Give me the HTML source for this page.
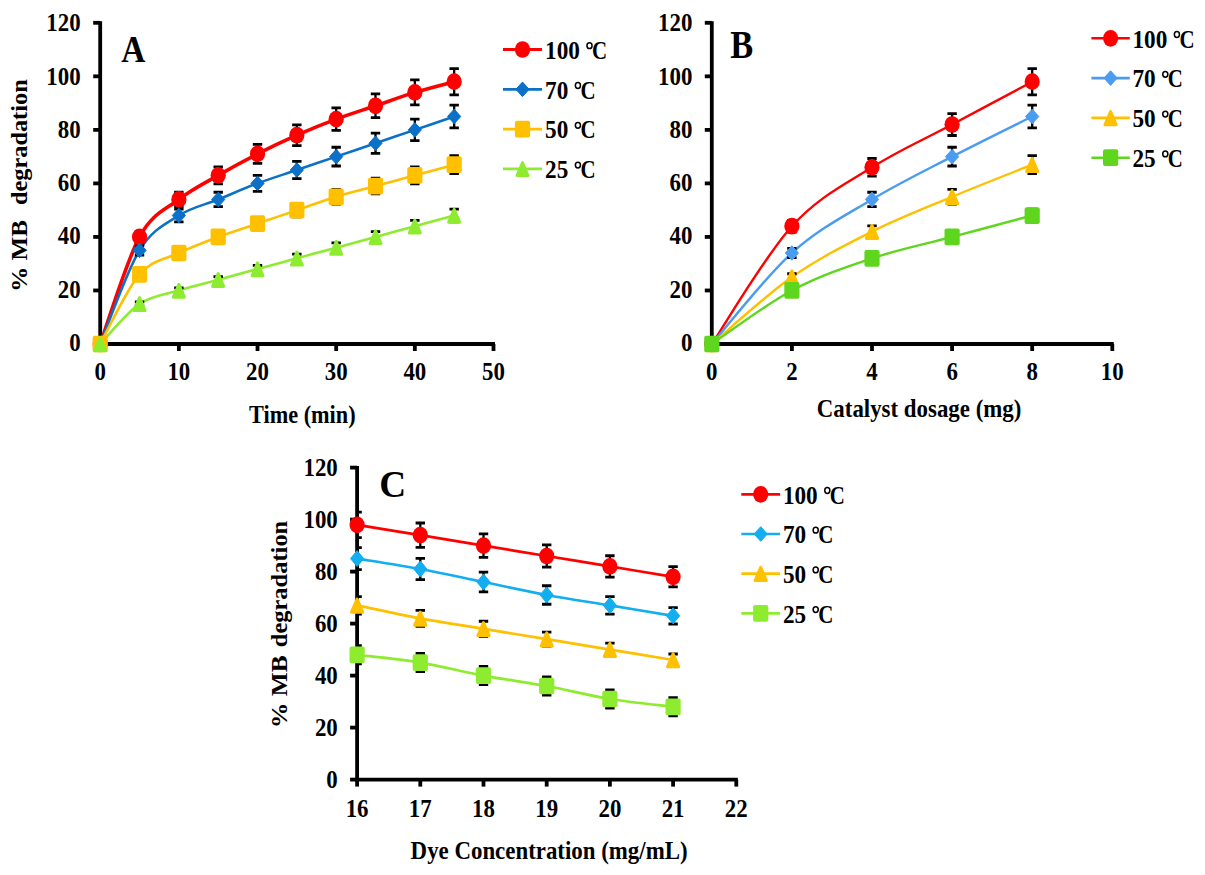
<!DOCTYPE html>
<html><head><meta charset="utf-8"><style>
html,body{margin:0;padding:0;background:#fff;width:1205px;height:875px;overflow:hidden}
svg{display:block}
text{font-family:"Liberation Serif", serif;font-weight:bold;fill:#000}
</style></head><body>
<svg width="1205" height="875" viewBox="0 0 1205 875">
<rect width="1205" height="875" fill="#fff"/>
<g stroke="#000" stroke-width="3.8" fill="none">
<path d="M100.20,21.30V345.90"/>
<path d="M98.30,344.00H495.00"/>
<path d="M93.20,344.00H100.20"/>
<path d="M93.20,290.47H100.20"/>
<path d="M93.20,236.93H100.20"/>
<path d="M93.20,183.40H100.20"/>
<path d="M93.20,129.87H100.20"/>
<path d="M93.20,76.33H100.20"/>
<path d="M93.20,22.80H100.20"/>
<path d="M100.20,344.00V351.00"/>
<path d="M178.86,344.00V351.00"/>
<path d="M257.52,344.00V351.00"/>
<path d="M336.18,344.00V351.00"/>
<path d="M414.84,344.00V351.00"/>
<path d="M493.50,344.00V351.00"/>
</g>
<text x="0" y="0" font-size="24.60" text-anchor="end" transform="translate(80.60,350.75) scale(0.930,1)" xml:space="preserve">0</text>
<text x="0" y="0" font-size="24.60" text-anchor="end" transform="translate(80.60,297.52) scale(0.930,1)" xml:space="preserve">20</text>
<text x="0" y="0" font-size="24.60" text-anchor="end" transform="translate(80.60,244.28) scale(0.930,1)" xml:space="preserve">40</text>
<text x="0" y="0" font-size="24.60" text-anchor="end" transform="translate(80.60,191.05) scale(0.930,1)" xml:space="preserve">60</text>
<text x="0" y="0" font-size="24.60" text-anchor="end" transform="translate(80.60,137.82) scale(0.930,1)" xml:space="preserve">80</text>
<text x="0" y="0" font-size="24.60" text-anchor="end" transform="translate(80.60,84.58) scale(0.930,1)" xml:space="preserve">100</text>
<text x="0" y="0" font-size="24.60" text-anchor="end" transform="translate(80.60,31.35) scale(0.930,1)" xml:space="preserve">120</text>
<text x="0" y="0" font-size="24.60" text-anchor="middle" transform="translate(100.20,379.60) scale(0.930,1)" xml:space="preserve">0</text>
<text x="0" y="0" font-size="24.60" text-anchor="middle" transform="translate(178.86,379.60) scale(0.930,1)" xml:space="preserve">10</text>
<text x="0" y="0" font-size="24.60" text-anchor="middle" transform="translate(257.52,379.60) scale(0.930,1)" xml:space="preserve">20</text>
<text x="0" y="0" font-size="24.60" text-anchor="middle" transform="translate(336.18,379.60) scale(0.930,1)" xml:space="preserve">30</text>
<text x="0" y="0" font-size="24.60" text-anchor="middle" transform="translate(414.84,379.60) scale(0.930,1)" xml:space="preserve">40</text>
<text x="0" y="0" font-size="24.60" text-anchor="middle" transform="translate(493.50,379.60) scale(0.930,1)" xml:space="preserve">50</text>
<path d="M100.20,344.00 C106.75,326.16 126.42,261.02 139.53,236.93 C152.64,212.84 165.75,209.72 178.86,199.46 C191.97,189.20 205.08,182.95 218.19,175.37 C231.30,167.79 244.41,160.65 257.52,153.96 C270.63,147.26 283.74,141.02 296.85,135.22 C309.96,129.42 323.07,124.07 336.18,119.16 C349.29,114.25 362.40,110.24 375.51,105.78 C388.62,101.32 401.73,96.41 414.84,92.39 C427.95,88.38 447.62,83.47 454.17,81.69" fill="none" stroke="#ff0000" stroke-width="3.60" stroke-linejoin="round" stroke-linecap="round"/>
<path d="M100.20,344.00 C106.75,328.39 126.42,271.73 139.53,250.32 C152.64,228.90 165.75,224.00 178.86,215.52 C191.97,207.04 205.08,204.81 218.19,199.46 C231.30,194.11 244.41,188.31 257.52,183.40 C270.63,178.49 283.74,174.48 296.85,170.02 C309.96,165.56 323.07,161.09 336.18,156.63 C349.29,152.17 362.40,147.71 375.51,143.25 C388.62,138.79 401.73,134.33 414.84,129.87 C427.95,125.41 447.62,118.71 454.17,116.48" fill="none" stroke="#0a70c8" stroke-width="2.60" stroke-linejoin="round" stroke-linecap="round"/>
<path d="M100.20,344.00 C106.75,332.40 126.42,289.57 139.53,274.41 C152.64,259.24 165.75,259.24 178.86,252.99 C191.97,246.75 205.08,241.84 218.19,236.93 C231.30,232.03 244.41,228.01 257.52,223.55 C270.63,219.09 283.74,214.63 296.85,210.17 C309.96,205.71 323.07,200.80 336.18,196.78 C349.29,192.77 362.40,189.65 375.51,186.08 C388.62,182.51 401.73,178.94 414.84,175.37 C427.95,171.80 447.62,166.45 454.17,164.66" fill="none" stroke="#ffc000" stroke-width="2.60" stroke-linejoin="round" stroke-linecap="round"/>
<path d="M100.20,344.00 C106.75,337.31 126.42,312.77 139.53,303.85 C152.64,294.93 165.75,294.48 178.86,290.47 C191.97,286.45 205.08,283.33 218.19,279.76 C231.30,276.19 244.41,272.62 257.52,269.05 C270.63,265.48 283.74,261.92 296.85,258.35 C309.96,254.78 323.07,251.21 336.18,247.64 C349.29,244.07 362.40,240.50 375.51,236.93 C388.62,233.36 401.73,229.80 414.84,226.23 C427.95,222.66 447.62,217.30 454.17,215.52" fill="none" stroke="#8eec30" stroke-width="2.60" stroke-linejoin="round" stroke-linecap="round"/>
<clipPath id="clipA"><rect x="100.20" y="0" width="1205" height="875"/></clipPath>
<g clip-path="url(#clipA)">
<path d="M139.53,231.58V242.29" stroke="#000" stroke-width="2.30" fill="none"/>
<path d="M134.83,231.58H144.23M134.83,242.29H144.23" stroke="#000" stroke-width="2.80" fill="none"/>
<path d="M178.86,192.23V206.69" stroke="#000" stroke-width="2.30" fill="none"/>
<path d="M174.16,192.23H183.56M174.16,206.69H183.56" stroke="#000" stroke-width="2.80" fill="none"/>
<path d="M218.19,166.94V183.80" stroke="#000" stroke-width="2.30" fill="none"/>
<path d="M213.49,166.94H222.89M213.49,183.80H222.89" stroke="#000" stroke-width="2.80" fill="none"/>
<path d="M257.52,144.45V163.46" stroke="#000" stroke-width="2.30" fill="none"/>
<path d="M252.82,144.45H262.22M252.82,163.46H262.22" stroke="#000" stroke-width="2.80" fill="none"/>
<path d="M296.85,124.78V145.66" stroke="#000" stroke-width="2.30" fill="none"/>
<path d="M292.15,124.78H301.55M292.15,145.66H301.55" stroke="#000" stroke-width="2.80" fill="none"/>
<path d="M336.18,107.92V130.40" stroke="#000" stroke-width="2.30" fill="none"/>
<path d="M331.48,107.92H340.88M331.48,130.40H340.88" stroke="#000" stroke-width="2.80" fill="none"/>
<path d="M375.51,93.87V117.69" stroke="#000" stroke-width="2.30" fill="none"/>
<path d="M370.81,93.87H380.21M370.81,117.69H380.21" stroke="#000" stroke-width="2.80" fill="none"/>
<path d="M414.84,79.81V104.97" stroke="#000" stroke-width="2.30" fill="none"/>
<path d="M410.14,79.81H419.54M410.14,104.97H419.54" stroke="#000" stroke-width="2.80" fill="none"/>
<path d="M454.17,68.57V94.80" stroke="#000" stroke-width="2.30" fill="none"/>
<path d="M449.47,68.57H458.87M449.47,94.80H458.87" stroke="#000" stroke-width="2.80" fill="none"/>
<path d="M139.53,245.63V255.00" stroke="#000" stroke-width="2.30" fill="none"/>
<path d="M134.83,245.63H144.23M134.83,255.00H144.23" stroke="#000" stroke-width="2.80" fill="none"/>
<path d="M178.86,209.10V221.94" stroke="#000" stroke-width="2.30" fill="none"/>
<path d="M174.16,209.10H183.56M174.16,221.94H183.56" stroke="#000" stroke-width="2.80" fill="none"/>
<path d="M218.19,192.23V206.69" stroke="#000" stroke-width="2.30" fill="none"/>
<path d="M213.49,192.23H222.89M213.49,206.69H222.89" stroke="#000" stroke-width="2.80" fill="none"/>
<path d="M257.52,175.37V191.43" stroke="#000" stroke-width="2.30" fill="none"/>
<path d="M252.82,175.37H262.22M252.82,191.43H262.22" stroke="#000" stroke-width="2.80" fill="none"/>
<path d="M296.85,161.32V178.72" stroke="#000" stroke-width="2.30" fill="none"/>
<path d="M292.15,161.32H301.55M292.15,178.72H301.55" stroke="#000" stroke-width="2.80" fill="none"/>
<path d="M336.18,147.26V166.00" stroke="#000" stroke-width="2.30" fill="none"/>
<path d="M331.48,147.26H340.88M331.48,166.00H340.88" stroke="#000" stroke-width="2.80" fill="none"/>
<path d="M375.51,133.21V153.29" stroke="#000" stroke-width="2.30" fill="none"/>
<path d="M370.81,133.21H380.21M370.81,153.29H380.21" stroke="#000" stroke-width="2.80" fill="none"/>
<path d="M414.84,119.16V140.57" stroke="#000" stroke-width="2.30" fill="none"/>
<path d="M410.14,119.16H419.54M410.14,140.57H419.54" stroke="#000" stroke-width="2.80" fill="none"/>
<path d="M454.17,105.11V127.86" stroke="#000" stroke-width="2.30" fill="none"/>
<path d="M449.47,105.11H458.87M449.47,127.86H458.87" stroke="#000" stroke-width="2.80" fill="none"/>
<path d="M139.53,270.93V277.89" stroke="#000" stroke-width="2.30" fill="none"/>
<path d="M134.83,270.93H144.23M134.83,277.89H144.23" stroke="#000" stroke-width="2.80" fill="none"/>
<path d="M178.86,248.44V257.54" stroke="#000" stroke-width="2.30" fill="none"/>
<path d="M174.16,248.44H183.56M174.16,257.54H183.56" stroke="#000" stroke-width="2.80" fill="none"/>
<path d="M218.19,231.58V242.29" stroke="#000" stroke-width="2.30" fill="none"/>
<path d="M213.49,231.58H222.89M213.49,242.29H222.89" stroke="#000" stroke-width="2.80" fill="none"/>
<path d="M257.52,217.53V229.57" stroke="#000" stroke-width="2.30" fill="none"/>
<path d="M252.82,217.53H262.22M252.82,229.57H262.22" stroke="#000" stroke-width="2.80" fill="none"/>
<path d="M296.85,203.47V216.86" stroke="#000" stroke-width="2.30" fill="none"/>
<path d="M292.15,203.47H301.55M292.15,216.86H301.55" stroke="#000" stroke-width="2.80" fill="none"/>
<path d="M336.18,189.42V204.14" stroke="#000" stroke-width="2.30" fill="none"/>
<path d="M331.48,189.42H340.88M331.48,204.14H340.88" stroke="#000" stroke-width="2.80" fill="none"/>
<path d="M375.51,178.18V193.97" stroke="#000" stroke-width="2.30" fill="none"/>
<path d="M370.81,178.18H380.21M370.81,193.97H380.21" stroke="#000" stroke-width="2.80" fill="none"/>
<path d="M414.84,166.94V183.80" stroke="#000" stroke-width="2.30" fill="none"/>
<path d="M410.14,166.94H419.54M410.14,183.80H419.54" stroke="#000" stroke-width="2.80" fill="none"/>
<path d="M454.17,155.70V173.63" stroke="#000" stroke-width="2.30" fill="none"/>
<path d="M449.47,155.70H458.87M449.47,173.63H458.87" stroke="#000" stroke-width="2.80" fill="none"/>
<path d="M139.53,301.84V305.86" stroke="#000" stroke-width="2.30" fill="none"/>
<path d="M134.83,301.84H144.23M134.83,305.86H144.23" stroke="#000" stroke-width="2.80" fill="none"/>
<path d="M178.86,287.79V293.14" stroke="#000" stroke-width="2.30" fill="none"/>
<path d="M174.16,287.79H183.56M174.16,293.14H183.56" stroke="#000" stroke-width="2.80" fill="none"/>
<path d="M218.19,276.55V282.97" stroke="#000" stroke-width="2.30" fill="none"/>
<path d="M213.49,276.55H222.89M213.49,282.97H222.89" stroke="#000" stroke-width="2.80" fill="none"/>
<path d="M257.52,265.31V272.80" stroke="#000" stroke-width="2.30" fill="none"/>
<path d="M252.82,265.31H262.22M252.82,272.80H262.22" stroke="#000" stroke-width="2.80" fill="none"/>
<path d="M296.85,254.06V262.63" stroke="#000" stroke-width="2.30" fill="none"/>
<path d="M292.15,254.06H301.55M292.15,262.63H301.55" stroke="#000" stroke-width="2.80" fill="none"/>
<path d="M336.18,242.82V252.46" stroke="#000" stroke-width="2.30" fill="none"/>
<path d="M331.48,242.82H340.88M331.48,252.46H340.88" stroke="#000" stroke-width="2.80" fill="none"/>
<path d="M375.51,231.58V242.29" stroke="#000" stroke-width="2.30" fill="none"/>
<path d="M370.81,231.58H380.21M370.81,242.29H380.21" stroke="#000" stroke-width="2.80" fill="none"/>
<path d="M414.84,220.34V232.12" stroke="#000" stroke-width="2.30" fill="none"/>
<path d="M410.14,220.34H419.54M410.14,232.12H419.54" stroke="#000" stroke-width="2.80" fill="none"/>
<path d="M454.17,209.10V221.94" stroke="#000" stroke-width="2.30" fill="none"/>
<path d="M449.47,209.10H458.87M449.47,221.94H458.87" stroke="#000" stroke-width="2.80" fill="none"/>
</g>
<ellipse cx="100.20" cy="344.00" rx="7.60" ry="8.36" fill="#ff0000"/>
<ellipse cx="139.53" cy="236.93" rx="7.60" ry="8.36" fill="#ff0000"/>
<ellipse cx="178.86" cy="199.46" rx="7.60" ry="8.36" fill="#ff0000"/>
<ellipse cx="218.19" cy="175.37" rx="7.60" ry="8.36" fill="#ff0000"/>
<ellipse cx="257.52" cy="153.96" rx="7.60" ry="8.36" fill="#ff0000"/>
<ellipse cx="296.85" cy="135.22" rx="7.60" ry="8.36" fill="#ff0000"/>
<ellipse cx="336.18" cy="119.16" rx="7.60" ry="8.36" fill="#ff0000"/>
<ellipse cx="375.51" cy="105.78" rx="7.60" ry="8.36" fill="#ff0000"/>
<ellipse cx="414.84" cy="92.39" rx="7.60" ry="8.36" fill="#ff0000"/>
<ellipse cx="454.17" cy="81.69" rx="7.60" ry="8.36" fill="#ff0000"/>
<path d="M100.20,336.69L106.80,344.00L100.20,351.31L93.60,344.00Z" fill="#0a70c8" stroke="#0a70c8" stroke-width="1" stroke-linejoin="round"/>
<path d="M139.53,243.01L146.13,250.32L139.53,257.63L132.93,250.32Z" fill="#0a70c8" stroke="#0a70c8" stroke-width="1" stroke-linejoin="round"/>
<path d="M178.86,208.21L185.46,215.52L178.86,222.83L172.26,215.52Z" fill="#0a70c8" stroke="#0a70c8" stroke-width="1" stroke-linejoin="round"/>
<path d="M218.19,192.15L224.79,199.46L218.19,206.77L211.59,199.46Z" fill="#0a70c8" stroke="#0a70c8" stroke-width="1" stroke-linejoin="round"/>
<path d="M257.52,176.09L264.12,183.40L257.52,190.71L250.92,183.40Z" fill="#0a70c8" stroke="#0a70c8" stroke-width="1" stroke-linejoin="round"/>
<path d="M296.85,162.71L303.45,170.02L296.85,177.33L290.25,170.02Z" fill="#0a70c8" stroke="#0a70c8" stroke-width="1" stroke-linejoin="round"/>
<path d="M336.18,149.32L342.78,156.63L336.18,163.94L329.58,156.63Z" fill="#0a70c8" stroke="#0a70c8" stroke-width="1" stroke-linejoin="round"/>
<path d="M375.51,135.94L382.11,143.25L375.51,150.56L368.91,143.25Z" fill="#0a70c8" stroke="#0a70c8" stroke-width="1" stroke-linejoin="round"/>
<path d="M414.84,122.56L421.44,129.87L414.84,137.18L408.24,129.87Z" fill="#0a70c8" stroke="#0a70c8" stroke-width="1" stroke-linejoin="round"/>
<path d="M454.17,109.17L460.77,116.48L454.17,123.79L447.57,116.48Z" fill="#0a70c8" stroke="#0a70c8" stroke-width="1" stroke-linejoin="round"/>
<rect x="92.60" y="335.64" width="15.20" height="16.72" rx="2" fill="#ffc000"/>
<rect x="131.93" y="266.05" width="15.20" height="16.72" rx="2" fill="#ffc000"/>
<rect x="171.26" y="244.63" width="15.20" height="16.72" rx="2" fill="#ffc000"/>
<rect x="210.59" y="228.57" width="15.20" height="16.72" rx="2" fill="#ffc000"/>
<rect x="249.92" y="215.19" width="15.20" height="16.72" rx="2" fill="#ffc000"/>
<rect x="289.25" y="201.81" width="15.20" height="16.72" rx="2" fill="#ffc000"/>
<rect x="328.58" y="188.42" width="15.20" height="16.72" rx="2" fill="#ffc000"/>
<rect x="367.91" y="177.72" width="15.20" height="16.72" rx="2" fill="#ffc000"/>
<rect x="407.24" y="167.01" width="15.20" height="16.72" rx="2" fill="#ffc000"/>
<rect x="446.57" y="156.30" width="15.20" height="16.72" rx="2" fill="#ffc000"/>
<path d="M100.20,337.83L105.70,350.69L94.70,350.69Z" fill="#8eec30" stroke="#8eec30" stroke-width="3.0" stroke-linejoin="round"/>
<path d="M139.53,297.68L145.03,310.54L134.03,310.54Z" fill="#8eec30" stroke="#8eec30" stroke-width="3.0" stroke-linejoin="round"/>
<path d="M178.86,284.29L184.36,297.15L173.36,297.15Z" fill="#8eec30" stroke="#8eec30" stroke-width="3.0" stroke-linejoin="round"/>
<path d="M218.19,273.59L223.69,286.45L212.69,286.45Z" fill="#8eec30" stroke="#8eec30" stroke-width="3.0" stroke-linejoin="round"/>
<path d="M257.52,262.88L263.02,275.74L252.02,275.74Z" fill="#8eec30" stroke="#8eec30" stroke-width="3.0" stroke-linejoin="round"/>
<path d="M296.85,252.17L302.35,265.03L291.35,265.03Z" fill="#8eec30" stroke="#8eec30" stroke-width="3.0" stroke-linejoin="round"/>
<path d="M336.18,241.47L341.68,254.33L330.68,254.33Z" fill="#8eec30" stroke="#8eec30" stroke-width="3.0" stroke-linejoin="round"/>
<path d="M375.51,230.76L381.01,243.62L370.01,243.62Z" fill="#8eec30" stroke="#8eec30" stroke-width="3.0" stroke-linejoin="round"/>
<path d="M414.84,220.05L420.34,232.91L409.34,232.91Z" fill="#8eec30" stroke="#8eec30" stroke-width="3.0" stroke-linejoin="round"/>
<path d="M454.17,209.35L459.67,222.21L448.67,222.21Z" fill="#8eec30" stroke="#8eec30" stroke-width="3.0" stroke-linejoin="round"/>
<path d="M503.00,49.50H542.00" stroke="#ff0000" stroke-width="2.8"/>
<ellipse cx="522.50" cy="49.50" rx="7.60" ry="8.36" fill="#ff0000"/>
<text x="0" y="0" font-size="24.60" transform="translate(545.10,58.70) scale(0.944,1)" xml:space="preserve">100</text>
<ellipse cx="589.50" cy="45.70" rx="2.55" ry="2.90" fill="none" stroke="#000" stroke-width="1.50"/>
<text x="0" y="0" font-size="25.50" font-weight="normal" transform="translate(592.00,58.70) scale(0.820,1)" xml:space="preserve">C</text>
<path d="M503.00,89.30H542.00" stroke="#0a70c8" stroke-width="2.8"/>
<path d="M522.50,81.99L529.10,89.30L522.50,96.61L515.90,89.30Z" fill="#0a70c8" stroke="#0a70c8" stroke-width="1" stroke-linejoin="round"/>
<text x="0" y="0" font-size="24.60" transform="translate(545.10,98.50) scale(0.944,1)" xml:space="preserve">70</text>
<ellipse cx="577.90" cy="85.50" rx="2.55" ry="2.90" fill="none" stroke="#000" stroke-width="1.50"/>
<text x="0" y="0" font-size="25.50" font-weight="normal" transform="translate(580.40,98.50) scale(0.820,1)" xml:space="preserve">C</text>
<path d="M503.00,129.10H542.00" stroke="#ffc000" stroke-width="2.8"/>
<rect x="514.90" y="120.74" width="15.20" height="16.72" rx="2" fill="#ffc000"/>
<text x="0" y="0" font-size="24.60" transform="translate(545.10,138.30) scale(0.944,1)" xml:space="preserve">50</text>
<ellipse cx="577.90" cy="125.30" rx="2.55" ry="2.90" fill="none" stroke="#000" stroke-width="1.50"/>
<text x="0" y="0" font-size="25.50" font-weight="normal" transform="translate(580.40,138.30) scale(0.820,1)" xml:space="preserve">C</text>
<path d="M503.00,168.90H542.00" stroke="#8eec30" stroke-width="2.8"/>
<path d="M522.50,162.73L528.00,175.59L517.00,175.59Z" fill="#8eec30" stroke="#8eec30" stroke-width="3.0" stroke-linejoin="round"/>
<text x="0" y="0" font-size="24.60" transform="translate(545.10,178.10) scale(0.944,1)" xml:space="preserve">25</text>
<ellipse cx="577.90" cy="165.10" rx="2.55" ry="2.90" fill="none" stroke="#000" stroke-width="1.50"/>
<text x="0" y="0" font-size="25.50" font-weight="normal" transform="translate(580.40,178.10) scale(0.820,1)" xml:space="preserve">C</text>
<text x="0" y="0" font-size="37.50" transform="translate(121.30,61.50) scale(0.890,1)" xml:space="preserve">A</text>
<text x="0" y="0" font-size="24.60" text-anchor="middle" transform="translate(302.30,423.00) scale(0.905,1)" xml:space="preserve">Time (min)</text>
<text x="0" y="0" font-size="24.60" text-anchor="middle" transform="translate(26.80,142.20) rotate(-90) scale(0.990,0.935)" xml:space="preserve">degradation</text>
<text x="0" y="0" font-size="24.60" text-anchor="middle" transform="translate(26.80,256.00) rotate(-90) scale(1.020,0.935)" xml:space="preserve">% MB</text>
<g stroke="#000" stroke-width="3.8" fill="none">
<path d="M711.80,21.30V345.90"/>
<path d="M709.90,344.00H1113.80"/>
<path d="M704.80,344.00H711.80"/>
<path d="M704.80,290.47H711.80"/>
<path d="M704.80,236.93H711.80"/>
<path d="M704.80,183.40H711.80"/>
<path d="M704.80,129.87H711.80"/>
<path d="M704.80,76.33H711.80"/>
<path d="M704.80,22.80H711.80"/>
<path d="M711.80,344.00V351.00"/>
<path d="M791.90,344.00V351.00"/>
<path d="M872.00,344.00V351.00"/>
<path d="M952.10,344.00V351.00"/>
<path d="M1032.20,344.00V351.00"/>
<path d="M1112.30,344.00V351.00"/>
</g>
<text x="0" y="0" font-size="24.60" text-anchor="end" transform="translate(692.40,350.75) scale(0.930,1)" xml:space="preserve">0</text>
<text x="0" y="0" font-size="24.60" text-anchor="end" transform="translate(692.40,297.52) scale(0.930,1)" xml:space="preserve">20</text>
<text x="0" y="0" font-size="24.60" text-anchor="end" transform="translate(692.40,244.28) scale(0.930,1)" xml:space="preserve">40</text>
<text x="0" y="0" font-size="24.60" text-anchor="end" transform="translate(692.40,191.05) scale(0.930,1)" xml:space="preserve">60</text>
<text x="0" y="0" font-size="24.60" text-anchor="end" transform="translate(692.40,137.82) scale(0.930,1)" xml:space="preserve">80</text>
<text x="0" y="0" font-size="24.60" text-anchor="end" transform="translate(692.40,84.58) scale(0.930,1)" xml:space="preserve">100</text>
<text x="0" y="0" font-size="24.60" text-anchor="end" transform="translate(692.40,31.35) scale(0.930,1)" xml:space="preserve">120</text>
<text x="0" y="0" font-size="24.60" text-anchor="middle" transform="translate(711.80,379.60) scale(0.930,1)" xml:space="preserve">0</text>
<text x="0" y="0" font-size="24.60" text-anchor="middle" transform="translate(791.90,379.60) scale(0.930,1)" xml:space="preserve">2</text>
<text x="0" y="0" font-size="24.60" text-anchor="middle" transform="translate(872.00,379.60) scale(0.930,1)" xml:space="preserve">4</text>
<text x="0" y="0" font-size="24.60" text-anchor="middle" transform="translate(952.10,379.60) scale(0.930,1)" xml:space="preserve">6</text>
<text x="0" y="0" font-size="24.60" text-anchor="middle" transform="translate(1032.20,379.60) scale(0.930,1)" xml:space="preserve">8</text>
<text x="0" y="0" font-size="24.60" text-anchor="middle" transform="translate(1112.30,379.60) scale(0.930,1)" xml:space="preserve">10</text>
<path d="M711.80,344.00 C725.15,324.37 765.20,255.67 791.90,226.23 C818.60,196.78 845.30,184.29 872.00,167.34 C898.70,150.39 925.40,138.79 952.10,124.51 C978.80,110.24 1018.85,88.82 1032.20,81.69" fill="none" stroke="#ff0000" stroke-width="2.40" stroke-linejoin="round" stroke-linecap="round"/>
<path d="M711.80,344.00 C725.15,328.83 765.20,277.08 791.90,252.99 C818.60,228.90 845.30,215.52 872.00,199.46 C898.70,183.40 925.40,170.46 952.10,156.63 C978.80,142.80 1018.85,123.17 1032.20,116.48" fill="none" stroke="#4a9cf0" stroke-width="2.40" stroke-linejoin="round" stroke-linecap="round"/>
<path d="M711.80,344.00 C725.15,332.85 765.20,295.82 791.90,277.08 C818.60,258.35 845.30,244.96 872.00,231.58 C898.70,218.20 925.40,207.94 952.10,196.78 C978.80,185.63 1018.85,170.02 1032.20,164.66" fill="none" stroke="#ffc000" stroke-width="2.40" stroke-linejoin="round" stroke-linecap="round"/>
<path d="M711.80,344.00 C725.15,335.08 765.20,304.74 791.90,290.47 C818.60,276.19 845.30,267.27 872.00,258.35 C898.70,249.42 925.40,244.07 952.10,236.93 C978.80,229.80 1018.85,219.09 1032.20,215.52" fill="none" stroke="#5ed61e" stroke-width="2.40" stroke-linejoin="round" stroke-linecap="round"/>
<clipPath id="clipB"><rect x="711.80" y="0" width="1205" height="875"/></clipPath>
<g clip-path="url(#clipB)">
<path d="M791.90,220.34V232.12" stroke="#000" stroke-width="2.30" fill="none"/>
<path d="M787.20,220.34H796.60M787.20,232.12H796.60" stroke="#000" stroke-width="2.80" fill="none"/>
<path d="M872.00,158.51V176.17" stroke="#000" stroke-width="2.30" fill="none"/>
<path d="M867.30,158.51H876.70M867.30,176.17H876.70" stroke="#000" stroke-width="2.80" fill="none"/>
<path d="M952.10,113.54V135.49" stroke="#000" stroke-width="2.30" fill="none"/>
<path d="M947.40,113.54H956.80M947.40,135.49H956.80" stroke="#000" stroke-width="2.80" fill="none"/>
<path d="M1032.20,68.57V94.80" stroke="#000" stroke-width="2.30" fill="none"/>
<path d="M1027.50,68.57H1036.90M1027.50,94.80H1036.90" stroke="#000" stroke-width="2.80" fill="none"/>
<path d="M791.90,248.44V257.54" stroke="#000" stroke-width="2.30" fill="none"/>
<path d="M787.20,248.44H796.60M787.20,257.54H796.60" stroke="#000" stroke-width="2.80" fill="none"/>
<path d="M872.00,192.23V206.69" stroke="#000" stroke-width="2.30" fill="none"/>
<path d="M867.30,192.23H876.70M867.30,206.69H876.70" stroke="#000" stroke-width="2.80" fill="none"/>
<path d="M952.10,147.26V166.00" stroke="#000" stroke-width="2.30" fill="none"/>
<path d="M947.40,147.26H956.80M947.40,166.00H956.80" stroke="#000" stroke-width="2.80" fill="none"/>
<path d="M1032.20,105.11V127.86" stroke="#000" stroke-width="2.30" fill="none"/>
<path d="M1027.50,105.11H1036.90M1027.50,127.86H1036.90" stroke="#000" stroke-width="2.80" fill="none"/>
<path d="M791.90,273.74V280.43" stroke="#000" stroke-width="2.30" fill="none"/>
<path d="M787.20,273.74H796.60M787.20,280.43H796.60" stroke="#000" stroke-width="2.80" fill="none"/>
<path d="M872.00,225.96V237.20" stroke="#000" stroke-width="2.30" fill="none"/>
<path d="M867.30,225.96H876.70M867.30,237.20H876.70" stroke="#000" stroke-width="2.80" fill="none"/>
<path d="M952.10,189.42V204.14" stroke="#000" stroke-width="2.30" fill="none"/>
<path d="M947.40,189.42H956.80M947.40,204.14H956.80" stroke="#000" stroke-width="2.80" fill="none"/>
<path d="M1032.20,155.70V173.63" stroke="#000" stroke-width="2.30" fill="none"/>
<path d="M1027.50,155.70H1036.90M1027.50,173.63H1036.90" stroke="#000" stroke-width="2.80" fill="none"/>
<path d="M791.90,287.79V293.14" stroke="#000" stroke-width="2.30" fill="none"/>
<path d="M787.20,287.79H796.60M787.20,293.14H796.60" stroke="#000" stroke-width="2.80" fill="none"/>
<path d="M872.00,254.06V262.63" stroke="#000" stroke-width="2.30" fill="none"/>
<path d="M867.30,254.06H876.70M867.30,262.63H876.70" stroke="#000" stroke-width="2.80" fill="none"/>
<path d="M952.10,231.58V242.29" stroke="#000" stroke-width="2.30" fill="none"/>
<path d="M947.40,231.58H956.80M947.40,242.29H956.80" stroke="#000" stroke-width="2.80" fill="none"/>
<path d="M1032.20,209.10V221.94" stroke="#000" stroke-width="2.30" fill="none"/>
<path d="M1027.50,209.10H1036.90M1027.50,221.94H1036.90" stroke="#000" stroke-width="2.80" fill="none"/>
</g>
<ellipse cx="711.80" cy="344.00" rx="7.60" ry="8.36" fill="#ff0000"/>
<ellipse cx="791.90" cy="226.23" rx="7.60" ry="8.36" fill="#ff0000"/>
<ellipse cx="872.00" cy="167.34" rx="7.60" ry="8.36" fill="#ff0000"/>
<ellipse cx="952.10" cy="124.51" rx="7.60" ry="8.36" fill="#ff0000"/>
<ellipse cx="1032.20" cy="81.69" rx="7.60" ry="8.36" fill="#ff0000"/>
<path d="M711.80,336.69L718.40,344.00L711.80,351.31L705.20,344.00Z" fill="#4a9cf0" stroke="#4a9cf0" stroke-width="1" stroke-linejoin="round"/>
<path d="M791.90,245.68L798.50,252.99L791.90,260.30L785.30,252.99Z" fill="#4a9cf0" stroke="#4a9cf0" stroke-width="1" stroke-linejoin="round"/>
<path d="M872.00,192.15L878.60,199.46L872.00,206.77L865.40,199.46Z" fill="#4a9cf0" stroke="#4a9cf0" stroke-width="1" stroke-linejoin="round"/>
<path d="M952.10,149.32L958.70,156.63L952.10,163.94L945.50,156.63Z" fill="#4a9cf0" stroke="#4a9cf0" stroke-width="1" stroke-linejoin="round"/>
<path d="M1032.20,109.17L1038.80,116.48L1032.20,123.79L1025.60,116.48Z" fill="#4a9cf0" stroke="#4a9cf0" stroke-width="1" stroke-linejoin="round"/>
<path d="M711.80,337.72L717.40,350.81L706.20,350.81Z" fill="#ffc000" stroke="#ffc000" stroke-width="3.0" stroke-linejoin="round"/>
<path d="M791.90,270.80L797.50,283.89L786.30,283.89Z" fill="#ffc000" stroke="#ffc000" stroke-width="3.0" stroke-linejoin="round"/>
<path d="M872.00,225.30L877.60,238.39L866.40,238.39Z" fill="#ffc000" stroke="#ffc000" stroke-width="3.0" stroke-linejoin="round"/>
<path d="M952.10,190.50L957.70,203.59L946.50,203.59Z" fill="#ffc000" stroke="#ffc000" stroke-width="3.0" stroke-linejoin="round"/>
<path d="M1032.20,158.38L1037.80,171.47L1026.60,171.47Z" fill="#ffc000" stroke="#ffc000" stroke-width="3.0" stroke-linejoin="round"/>
<rect x="704.20" y="335.64" width="15.20" height="16.72" rx="2" fill="#5ed61e"/>
<rect x="784.30" y="282.11" width="15.20" height="16.72" rx="2" fill="#5ed61e"/>
<rect x="864.40" y="249.99" width="15.20" height="16.72" rx="2" fill="#5ed61e"/>
<rect x="944.50" y="228.57" width="15.20" height="16.72" rx="2" fill="#5ed61e"/>
<rect x="1024.60" y="207.16" width="15.20" height="16.72" rx="2" fill="#5ed61e"/>
<path d="M1091.40,38.30H1129.80" stroke="#ff0000" stroke-width="2.6"/>
<ellipse cx="1110.60" cy="38.30" rx="7.60" ry="8.36" fill="#ff0000"/>
<text x="0" y="0" font-size="24.60" transform="translate(1132.50,47.50) scale(0.944,1)" xml:space="preserve">100</text>
<ellipse cx="1176.90" cy="34.50" rx="2.55" ry="2.90" fill="none" stroke="#000" stroke-width="1.50"/>
<text x="0" y="0" font-size="25.50" font-weight="normal" transform="translate(1179.40,47.50) scale(0.820,1)" xml:space="preserve">C</text>
<path d="M1091.40,78.10H1129.80" stroke="#4a9cf0" stroke-width="2.6"/>
<path d="M1110.60,70.79L1117.20,78.10L1110.60,85.41L1104.00,78.10Z" fill="#4a9cf0" stroke="#4a9cf0" stroke-width="1" stroke-linejoin="round"/>
<text x="0" y="0" font-size="24.60" transform="translate(1132.50,87.30) scale(0.944,1)" xml:space="preserve">70</text>
<ellipse cx="1165.30" cy="74.30" rx="2.55" ry="2.90" fill="none" stroke="#000" stroke-width="1.50"/>
<text x="0" y="0" font-size="25.50" font-weight="normal" transform="translate(1167.80,87.30) scale(0.820,1)" xml:space="preserve">C</text>
<path d="M1091.40,117.90H1129.80" stroke="#ffc000" stroke-width="2.6"/>
<path d="M1110.60,111.62L1116.20,124.71L1105.00,124.71Z" fill="#ffc000" stroke="#ffc000" stroke-width="3.0" stroke-linejoin="round"/>
<text x="0" y="0" font-size="24.60" transform="translate(1132.50,127.10) scale(0.944,1)" xml:space="preserve">50</text>
<ellipse cx="1165.30" cy="114.10" rx="2.55" ry="2.90" fill="none" stroke="#000" stroke-width="1.50"/>
<text x="0" y="0" font-size="25.50" font-weight="normal" transform="translate(1167.80,127.10) scale(0.820,1)" xml:space="preserve">C</text>
<path d="M1091.40,157.70H1129.80" stroke="#5ed61e" stroke-width="2.6"/>
<rect x="1103.00" y="149.34" width="15.20" height="16.72" rx="2" fill="#5ed61e"/>
<text x="0" y="0" font-size="24.60" transform="translate(1132.50,166.90) scale(0.944,1)" xml:space="preserve">25</text>
<ellipse cx="1165.30" cy="153.90" rx="2.55" ry="2.90" fill="none" stroke="#000" stroke-width="1.50"/>
<text x="0" y="0" font-size="25.50" font-weight="normal" transform="translate(1167.80,166.90) scale(0.820,1)" xml:space="preserve">C</text>
<text x="0" y="0" font-size="39.50" transform="translate(730.20,57.80) scale(0.870,1)" xml:space="preserve">B</text>
<text x="0" y="0" font-size="24.60" text-anchor="middle" transform="translate(919.10,417.30) scale(0.930,1)" xml:space="preserve">Catalyst dosage (mg)</text>
<g stroke="#000" stroke-width="3.8" fill="none">
<path d="M357.10,466.10V781.50"/>
<path d="M355.20,779.60H737.80"/>
<path d="M350.10,779.60H357.10"/>
<path d="M350.10,727.60H357.10"/>
<path d="M350.10,675.60H357.10"/>
<path d="M350.10,623.60H357.10"/>
<path d="M350.10,571.60H357.10"/>
<path d="M350.10,519.60H357.10"/>
<path d="M350.10,467.60H357.10"/>
<path d="M357.10,779.60V786.60"/>
<path d="M420.30,779.60V786.60"/>
<path d="M483.50,779.60V786.60"/>
<path d="M546.70,779.60V786.60"/>
<path d="M609.90,779.60V786.60"/>
<path d="M673.10,779.60V786.60"/>
<path d="M736.30,779.60V786.60"/>
</g>
<text x="0" y="0" font-size="24.60" text-anchor="end" transform="translate(337.80,787.80) scale(0.930,1)" xml:space="preserve">0</text>
<text x="0" y="0" font-size="24.60" text-anchor="end" transform="translate(337.80,735.87) scale(0.930,1)" xml:space="preserve">20</text>
<text x="0" y="0" font-size="24.60" text-anchor="end" transform="translate(337.80,683.93) scale(0.930,1)" xml:space="preserve">40</text>
<text x="0" y="0" font-size="24.60" text-anchor="end" transform="translate(337.80,632.00) scale(0.930,1)" xml:space="preserve">60</text>
<text x="0" y="0" font-size="24.60" text-anchor="end" transform="translate(337.80,580.07) scale(0.930,1)" xml:space="preserve">80</text>
<text x="0" y="0" font-size="24.60" text-anchor="end" transform="translate(337.80,528.13) scale(0.930,1)" xml:space="preserve">100</text>
<text x="0" y="0" font-size="24.60" text-anchor="end" transform="translate(337.80,476.20) scale(0.930,1)" xml:space="preserve">120</text>
<text x="0" y="0" font-size="24.60" text-anchor="middle" transform="translate(357.10,817.00) scale(0.930,1)" xml:space="preserve">16</text>
<text x="0" y="0" font-size="24.60" text-anchor="middle" transform="translate(420.30,817.00) scale(0.930,1)" xml:space="preserve">17</text>
<text x="0" y="0" font-size="24.60" text-anchor="middle" transform="translate(483.50,817.00) scale(0.930,1)" xml:space="preserve">18</text>
<text x="0" y="0" font-size="24.60" text-anchor="middle" transform="translate(546.70,817.00) scale(0.930,1)" xml:space="preserve">19</text>
<text x="0" y="0" font-size="24.60" text-anchor="middle" transform="translate(609.90,817.00) scale(0.930,1)" xml:space="preserve">20</text>
<text x="0" y="0" font-size="24.60" text-anchor="middle" transform="translate(673.10,817.00) scale(0.930,1)" xml:space="preserve">21</text>
<text x="0" y="0" font-size="24.60" text-anchor="middle" transform="translate(736.30,817.00) scale(0.930,1)" xml:space="preserve">22</text>
<path d="M357.10,524.80 C367.63,526.53 399.23,531.73 420.30,535.20 C441.37,538.67 462.43,542.13 483.50,545.60 C504.57,549.07 525.63,552.53 546.70,556.00 C567.77,559.47 588.83,562.93 609.90,566.40 C630.97,569.87 662.57,575.07 673.10,576.80" fill="none" stroke="#ff0000" stroke-width="2.70" stroke-linejoin="round" stroke-linecap="round"/>
<path d="M357.10,558.60 C367.63,560.33 399.23,565.10 420.30,569.00 C441.37,572.90 462.43,577.67 483.50,582.00 C504.57,586.33 525.63,591.10 546.70,595.00 C567.77,598.90 588.83,601.93 609.90,605.40 C630.97,608.87 662.57,614.07 673.10,615.80" fill="none" stroke="#12aef0" stroke-width="2.70" stroke-linejoin="round" stroke-linecap="round"/>
<path d="M357.10,605.40 C367.63,607.57 399.23,614.50 420.30,618.40 C441.37,622.30 462.43,625.33 483.50,628.80 C504.57,632.27 525.63,635.73 546.70,639.20 C567.77,642.67 588.83,646.13 609.90,649.60 C630.97,653.07 662.57,658.27 673.10,660.00" fill="none" stroke="#ffc000" stroke-width="2.70" stroke-linejoin="round" stroke-linecap="round"/>
<path d="M357.10,654.80 C367.63,656.10 399.23,659.13 420.30,662.60 C441.37,666.07 462.43,671.70 483.50,675.60 C504.57,679.50 525.63,682.10 546.70,686.00 C567.77,689.90 588.83,695.53 609.90,699.00 C630.97,702.47 662.57,705.50 673.10,706.80" fill="none" stroke="#8eec30" stroke-width="2.70" stroke-linejoin="round" stroke-linecap="round"/>
<clipPath id="clipC"><rect x="357.10" y="0" width="1205" height="875"/></clipPath>
<g clip-path="url(#clipC)">
<path d="M357.10,512.06V537.54" stroke="#000" stroke-width="2.30" fill="none"/>
<path d="M352.40,512.06H361.80M352.40,537.54H361.80" stroke="#000" stroke-width="2.80" fill="none"/>
<path d="M420.30,522.98V547.42" stroke="#000" stroke-width="2.30" fill="none"/>
<path d="M415.60,522.98H425.00M415.60,547.42H425.00" stroke="#000" stroke-width="2.80" fill="none"/>
<path d="M483.50,533.90V557.30" stroke="#000" stroke-width="2.30" fill="none"/>
<path d="M478.80,533.90H488.20M478.80,557.30H488.20" stroke="#000" stroke-width="2.80" fill="none"/>
<path d="M546.70,544.82V567.18" stroke="#000" stroke-width="2.30" fill="none"/>
<path d="M542.00,544.82H551.40M542.00,567.18H551.40" stroke="#000" stroke-width="2.80" fill="none"/>
<path d="M609.90,555.74V577.06" stroke="#000" stroke-width="2.30" fill="none"/>
<path d="M605.20,555.74H614.60M605.20,577.06H614.60" stroke="#000" stroke-width="2.80" fill="none"/>
<path d="M673.10,566.66V586.94" stroke="#000" stroke-width="2.30" fill="none"/>
<path d="M668.40,566.66H677.80M668.40,586.94H677.80" stroke="#000" stroke-width="2.80" fill="none"/>
<path d="M357.10,547.55V569.65" stroke="#000" stroke-width="2.30" fill="none"/>
<path d="M352.40,547.55H361.80M352.40,569.65H361.80" stroke="#000" stroke-width="2.80" fill="none"/>
<path d="M420.30,558.47V579.53" stroke="#000" stroke-width="2.30" fill="none"/>
<path d="M415.60,558.47H425.00M415.60,579.53H425.00" stroke="#000" stroke-width="2.80" fill="none"/>
<path d="M483.50,572.12V591.88" stroke="#000" stroke-width="2.30" fill="none"/>
<path d="M478.80,572.12H488.20M478.80,591.88H488.20" stroke="#000" stroke-width="2.80" fill="none"/>
<path d="M546.70,585.77V604.23" stroke="#000" stroke-width="2.30" fill="none"/>
<path d="M542.00,585.77H551.40M542.00,604.23H551.40" stroke="#000" stroke-width="2.80" fill="none"/>
<path d="M609.90,596.69V614.11" stroke="#000" stroke-width="2.30" fill="none"/>
<path d="M605.20,596.69H614.60M605.20,614.11H614.60" stroke="#000" stroke-width="2.80" fill="none"/>
<path d="M673.10,607.61V623.99" stroke="#000" stroke-width="2.30" fill="none"/>
<path d="M668.40,607.61H677.80M668.40,623.99H677.80" stroke="#000" stroke-width="2.80" fill="none"/>
<path d="M357.10,596.69V614.11" stroke="#000" stroke-width="2.30" fill="none"/>
<path d="M352.40,596.69H361.80M352.40,614.11H361.80" stroke="#000" stroke-width="2.80" fill="none"/>
<path d="M420.30,610.34V626.46" stroke="#000" stroke-width="2.30" fill="none"/>
<path d="M415.60,610.34H425.00M415.60,626.46H425.00" stroke="#000" stroke-width="2.80" fill="none"/>
<path d="M483.50,621.26V636.34" stroke="#000" stroke-width="2.30" fill="none"/>
<path d="M478.80,621.26H488.20M478.80,636.34H488.20" stroke="#000" stroke-width="2.80" fill="none"/>
<path d="M546.70,632.18V646.22" stroke="#000" stroke-width="2.30" fill="none"/>
<path d="M542.00,632.18H551.40M542.00,646.22H551.40" stroke="#000" stroke-width="2.80" fill="none"/>
<path d="M609.90,643.10V656.10" stroke="#000" stroke-width="2.30" fill="none"/>
<path d="M605.20,643.10H614.60M605.20,656.10H614.60" stroke="#000" stroke-width="2.80" fill="none"/>
<path d="M673.10,654.02V665.98" stroke="#000" stroke-width="2.30" fill="none"/>
<path d="M668.40,654.02H677.80M668.40,665.98H677.80" stroke="#000" stroke-width="2.80" fill="none"/>
<path d="M357.10,645.70V663.90" stroke="#000" stroke-width="2.30" fill="none"/>
<path d="M352.40,645.70H361.80M352.40,663.90H361.80" stroke="#000" stroke-width="2.80" fill="none"/>
<path d="M420.30,653.50V671.70" stroke="#000" stroke-width="2.30" fill="none"/>
<path d="M415.60,653.50H425.00M415.60,671.70H425.00" stroke="#000" stroke-width="2.80" fill="none"/>
<path d="M483.50,666.50V684.70" stroke="#000" stroke-width="2.30" fill="none"/>
<path d="M478.80,666.50H488.20M478.80,684.70H488.20" stroke="#000" stroke-width="2.80" fill="none"/>
<path d="M546.70,676.90V695.10" stroke="#000" stroke-width="2.30" fill="none"/>
<path d="M542.00,676.90H551.40M542.00,695.10H551.40" stroke="#000" stroke-width="2.80" fill="none"/>
<path d="M609.90,689.90V708.10" stroke="#000" stroke-width="2.30" fill="none"/>
<path d="M605.20,689.90H614.60M605.20,708.10H614.60" stroke="#000" stroke-width="2.80" fill="none"/>
<path d="M673.10,697.70V715.90" stroke="#000" stroke-width="2.30" fill="none"/>
<path d="M668.40,697.70H677.80M668.40,715.90H677.80" stroke="#000" stroke-width="2.80" fill="none"/>
</g>
<ellipse cx="357.10" cy="524.80" rx="7.60" ry="8.36" fill="#ff0000"/>
<ellipse cx="420.30" cy="535.20" rx="7.60" ry="8.36" fill="#ff0000"/>
<ellipse cx="483.50" cy="545.60" rx="7.60" ry="8.36" fill="#ff0000"/>
<ellipse cx="546.70" cy="556.00" rx="7.60" ry="8.36" fill="#ff0000"/>
<ellipse cx="609.90" cy="566.40" rx="7.60" ry="8.36" fill="#ff0000"/>
<ellipse cx="673.10" cy="576.80" rx="7.60" ry="8.36" fill="#ff0000"/>
<path d="M357.10,550.58L363.70,558.60L357.10,566.62L350.50,558.60Z" fill="#12aef0" stroke="#12aef0" stroke-width="1" stroke-linejoin="round"/>
<path d="M420.30,560.98L426.90,569.00L420.30,577.02L413.70,569.00Z" fill="#12aef0" stroke="#12aef0" stroke-width="1" stroke-linejoin="round"/>
<path d="M483.50,573.98L490.10,582.00L483.50,590.02L476.90,582.00Z" fill="#12aef0" stroke="#12aef0" stroke-width="1" stroke-linejoin="round"/>
<path d="M546.70,586.98L553.30,595.00L546.70,603.02L540.10,595.00Z" fill="#12aef0" stroke="#12aef0" stroke-width="1" stroke-linejoin="round"/>
<path d="M609.90,597.38L616.50,605.40L609.90,613.42L603.30,605.40Z" fill="#12aef0" stroke="#12aef0" stroke-width="1" stroke-linejoin="round"/>
<path d="M673.10,607.78L679.70,615.80L673.10,623.82L666.50,615.80Z" fill="#12aef0" stroke="#12aef0" stroke-width="1" stroke-linejoin="round"/>
<path d="M357.10,599.12L362.70,612.21L351.50,612.21Z" fill="#ffc000" stroke="#ffc000" stroke-width="3.0" stroke-linejoin="round"/>
<path d="M420.30,612.12L425.90,625.21L414.70,625.21Z" fill="#ffc000" stroke="#ffc000" stroke-width="3.0" stroke-linejoin="round"/>
<path d="M483.50,622.52L489.10,635.61L477.90,635.61Z" fill="#ffc000" stroke="#ffc000" stroke-width="3.0" stroke-linejoin="round"/>
<path d="M546.70,632.92L552.30,646.01L541.10,646.01Z" fill="#ffc000" stroke="#ffc000" stroke-width="3.0" stroke-linejoin="round"/>
<path d="M609.90,643.32L615.50,656.41L604.30,656.41Z" fill="#ffc000" stroke="#ffc000" stroke-width="3.0" stroke-linejoin="round"/>
<path d="M673.10,653.72L678.70,666.81L667.50,666.81Z" fill="#ffc000" stroke="#ffc000" stroke-width="3.0" stroke-linejoin="round"/>
<rect x="349.50" y="646.44" width="15.20" height="16.72" rx="2" fill="#8eec30"/>
<rect x="412.70" y="654.24" width="15.20" height="16.72" rx="2" fill="#8eec30"/>
<rect x="475.90" y="667.24" width="15.20" height="16.72" rx="2" fill="#8eec30"/>
<rect x="539.10" y="677.64" width="15.20" height="16.72" rx="2" fill="#8eec30"/>
<rect x="602.30" y="690.64" width="15.20" height="16.72" rx="2" fill="#8eec30"/>
<rect x="665.50" y="698.44" width="15.20" height="16.72" rx="2" fill="#8eec30"/>
<path d="M741.30,494.30H780.10" stroke="#ff0000" stroke-width="2.7"/>
<ellipse cx="760.70" cy="494.30" rx="7.60" ry="8.36" fill="#ff0000"/>
<text x="0" y="0" font-size="24.60" transform="translate(782.90,503.50) scale(0.944,1)" xml:space="preserve">100</text>
<ellipse cx="827.30" cy="490.50" rx="2.55" ry="2.90" fill="none" stroke="#000" stroke-width="1.50"/>
<text x="0" y="0" font-size="25.50" font-weight="normal" transform="translate(829.80,503.50) scale(0.820,1)" xml:space="preserve">C</text>
<path d="M741.30,534.00H780.10" stroke="#12aef0" stroke-width="2.7"/>
<path d="M760.70,526.69L767.30,534.00L760.70,541.31L754.10,534.00Z" fill="#12aef0" stroke="#12aef0" stroke-width="1" stroke-linejoin="round"/>
<text x="0" y="0" font-size="24.60" transform="translate(782.90,543.20) scale(0.944,1)" xml:space="preserve">70</text>
<ellipse cx="815.70" cy="530.20" rx="2.55" ry="2.90" fill="none" stroke="#000" stroke-width="1.50"/>
<text x="0" y="0" font-size="25.50" font-weight="normal" transform="translate(818.20,543.20) scale(0.820,1)" xml:space="preserve">C</text>
<path d="M741.30,573.70H780.10" stroke="#ffc000" stroke-width="2.7"/>
<path d="M760.70,567.42L766.30,580.51L755.10,580.51Z" fill="#ffc000" stroke="#ffc000" stroke-width="3.0" stroke-linejoin="round"/>
<text x="0" y="0" font-size="24.60" transform="translate(782.90,582.90) scale(0.944,1)" xml:space="preserve">50</text>
<ellipse cx="815.70" cy="569.90" rx="2.55" ry="2.90" fill="none" stroke="#000" stroke-width="1.50"/>
<text x="0" y="0" font-size="25.50" font-weight="normal" transform="translate(818.20,582.90) scale(0.820,1)" xml:space="preserve">C</text>
<path d="M741.30,613.40H780.10" stroke="#8eec30" stroke-width="2.7"/>
<rect x="753.10" y="605.04" width="15.20" height="16.72" rx="2" fill="#8eec30"/>
<text x="0" y="0" font-size="24.60" transform="translate(782.90,622.60) scale(0.944,1)" xml:space="preserve">25</text>
<ellipse cx="815.70" cy="609.60" rx="2.55" ry="2.90" fill="none" stroke="#000" stroke-width="1.50"/>
<text x="0" y="0" font-size="25.50" font-weight="normal" transform="translate(818.20,622.60) scale(0.820,1)" xml:space="preserve">C</text>
<text x="0" y="0" font-size="38.00" transform="translate(379.30,497.00) scale(0.980,1)" xml:space="preserve">C</text>
<text x="0" y="0" font-size="24.60" text-anchor="middle" transform="translate(549.10,858.50) scale(0.930,1)" xml:space="preserve">Dye Concentration (mg/mL)</text>
<text x="0" y="0" font-size="24.60" text-anchor="middle" transform="translate(286.50,584.00) rotate(-90) scale(0.995,0.935)" xml:space="preserve">degradation</text>
<text x="0" y="0" font-size="24.60" text-anchor="middle" transform="translate(286.50,691.70) rotate(-90) scale(1.030,0.935)" xml:space="preserve">% MB</text>
</svg>
</body></html>
